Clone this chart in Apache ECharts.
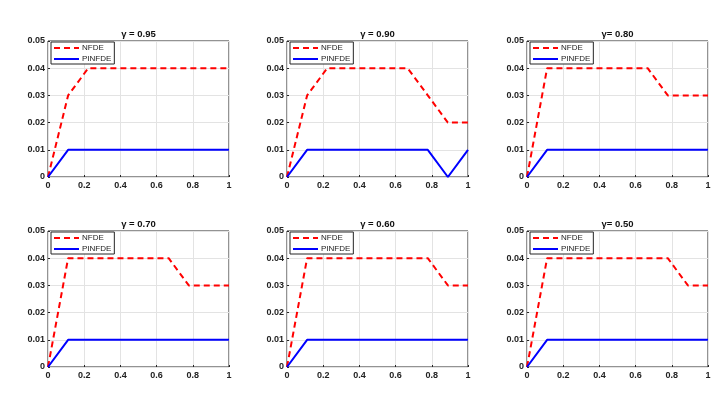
<!DOCTYPE html>
<html lang="en">
<head>
    <meta charset="UTF-8">
    <title>NFDE vs PINFDE</title>
    <script type="text/javascript" src="https://cdn.jsdelivr.net/npm/echarts@6/dist/echarts.min.js"></script>
    <style>
        html, body { margin: 0; padding: 0; background: #fff; }
    </style>
</head>
<body>
<div id="chart" style="width: 728px;height: 408px"></div>
</body>
<script type="text/javascript">

    // x grid: 10 points, step 1/9
    var xs = [0, 1/9, 2/9, 3/9, 4/9, 5/9, 6/9, 7/9, 8/9, 1];

    var titles = ['\u03b3 = 0.95', '\u03b3 = 0.90', '\u03b3= 0.80',
                  '\u03b3 = 0.70', '\u03b3 = 0.60', '\u03b3= 0.50'];

    var nfde95 = [0, 0.03, 0.04, 0.04, 0.04, 0.04, 0.04, 0.04, 0.04, 0.04];
    var nfde90 = [0, 0.03, 0.04, 0.04, 0.04, 0.04, 0.04, 0.03, 0.02, 0.02];
    var nfde80 = [0, 0.04, 0.04, 0.04, 0.04, 0.04, 0.04, 0.03, 0.03, 0.03];
    var nfde70 = [0, 0.04, 0.04, 0.04, 0.04, 0.04, 0.04, 0.03, 0.03, 0.03];
    var nfde60 = [0, 0.04, 0.04, 0.04, 0.04, 0.04, 0.04, 0.04, 0.03, 0.03];
    var nfde50 = [0, 0.04, 0.04, 0.04, 0.04, 0.04, 0.04, 0.04, 0.03, 0.03];

    var pinfde95 = [0, 0.01, 0.01, 0.01, 0.01, 0.01, 0.01, 0.01, 0.01, 0.01];
    var pinfde90 = [0, 0.01, 0.01, 0.01, 0.01, 0.01, 0.01, 0.01, 0, 0.01];
    var pinfde80 = [0, 0.01, 0.01, 0.01, 0.01, 0.01, 0.01, 0.01, 0.01, 0.01];
    var pinfde70 = [0, 0.01, 0.01, 0.01, 0.01, 0.01, 0.01, 0.01, 0.01, 0.01];
    var pinfde60 = [0, 0.01, 0.01, 0.01, 0.01, 0.01, 0.01, 0.01, 0.01, 0.01];
    var pinfde50 = [0, 0.01, 0.01, 0.01, 0.01, 0.01, 0.01, 0.01, 0.01, 0.01];

    var xTicks = [0, 0.2, 0.4, 0.6, 0.8, 1];
    var yTicks = [0, 0.01, 0.02, 0.03, 0.04, 0.05];

    var nfdeAll = [nfde95, nfde90, nfde80, nfde70, nfde60, nfde50];
    var pinfdeAll = [pinfde95, pinfde90, pinfde80, pinfde70, pinfde60, pinfde50];

    var colLeft = [48, 287, 527];
    var rowTop = [41, 231];
    var plotW = 181, plotH = 136;
    var font = 'Liberation Sans, Arial, Helvetica, sans-serif';
    var txt = '#222';

    function pairs(v) {
        return v.map(function (y, i) { return [xs[i], y]; });
    }

    var grids = [], xAxes = [], yAxes = [], series = [], legends = [], titleList = [];

    for (var k = 0; k < 6; k++) {
        var l = colLeft[k % 3], t = rowTop[Math.floor(k / 3)];
        grids.push({
            left: l, top: t, width: plotW, height: plotH,
            show: true, borderColor: '#262626', borderWidth: 1, backgroundColor: '#fff'
        });
        xAxes.push({
            type: 'value', gridIndex: k, min: xTicks[0], max: xTicks[xTicks.length - 1], interval: 0.2,
            axisLine: { show: false },
            axisTick: { show: true, inside: true, length: 2, lineStyle: { color: '#262626' } },
            axisLabel: { margin: 4, fontSize: 9, fontWeight: 'bold', color: txt, fontFamily: font },
            splitLine: { show: true, lineStyle: { color: '#e3e3e3', width: 1 } }
        });
        yAxes.push({
            type: 'value', gridIndex: k, min: yTicks[0], max: yTicks[yTicks.length - 1], interval: 0.01,
            axisLine: { show: false },
            axisTick: { show: true, inside: true, length: 2, lineStyle: { color: '#262626' } },
            axisLabel: { margin: 3, fontSize: 9, fontWeight: 'bold', color: txt, fontFamily: font },
            splitLine: { show: true, lineStyle: { color: '#e3e3e3', width: 1 } }
        });
        series.push({
            name: 'NFDE', type: 'line', xAxisIndex: k, yAxisIndex: k,
            data: pairs(nfdeAll[k]), symbol: 'none', z: 3,
            lineStyle: { color: '#ff0000', width: 2, type: [6, 4] },
            itemStyle: { color: '#ff0000' }
        });
        series.push({
            name: 'PINFDE', type: 'line', xAxisIndex: k, yAxisIndex: k,
            data: pairs(pinfdeAll[k]), symbol: 'none', z: 4,
            lineStyle: { color: '#0000ff', width: 2 },
            itemStyle: { color: '#0000ff' }
        });
        legends.push({
            data: ['NFDE', 'PINFDE'], orient: 'vertical',
            left: l + 3, top: t + 1,
            itemWidth: 25, itemHeight: 8, itemGap: 3,
            padding: [2, 3, 1, 2],
            backgroundColor: '#fff', borderColor: '#262626', borderWidth: 1, borderRadius: 0,
            selectedMode: false,
            itemStyle: { opacity: 0 },
            textStyle: { fontSize: 8, color: txt, fontFamily: font, padding: [0, 0, 0, -2] }
        });
        titleList.push({
            text: titles[k], left: l + plotW / 2, top: t - 12, textAlign: 'center', padding: 0,
            textStyle: { fontSize: 9.5, fontWeight: 'bold', color: '#111', fontFamily: font }
        });
    }

    var myChart = echarts.init(document.getElementById('chart'), null, { renderer: 'canvas' });
    myChart.setOption({
        animation: false,
        backgroundColor: '#fff',
        title: titleList,
        legend: legends,
        grid: grids,
        xAxis: xAxes,
        yAxis: yAxes,
        series: series
    });
</script>
</html>
